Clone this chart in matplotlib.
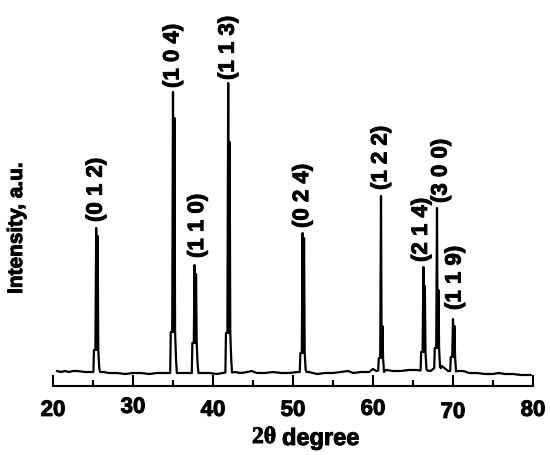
import matplotlib.pyplot as plt
import matplotlib.transforms as mtransforms
import matplotlib.patheffects as pe
import numpy as np

# Peak data
hkl = ["(0 1 2)", "(1 0 4)", "(1 1 0)", "(1 1 3)", "(0 2 4)",
       "(1 2 2)", "(2 1 4)", "(3 0 0)", "(1 1 9)"]
peak_pos = [25.4, 35.0, 37.7, 41.9, 51.2, 61.0, 66.3, 68.0, 70.0]
peak_top = [158, 294, 121, 303, 153, 190, 119, 178, 67]
peak_thick = [150, 268, 112, 244, 148, 60, 100, 96, 60]
peak_foot = [36, 54, 43, 53, 33, 28, 34, 38, 29]

base_x = [20.5, 21.0, 21.5, 22.0, 22.5, 23.0, 24.0, 24.8, 26.3, 27.0, 28.0,
          29.0, 30.0, 31.0, 32.0, 33.0, 34.3, 35.8, 36.5, 37.1, 38.4, 39.5,
          40.5, 41.2, 42.7, 43.5, 44.3, 44.8, 45.5, 46.5, 47.5, 48.5, 49.5,
          50.6, 52.0, 53.0, 54.0, 55.0, 56.0, 56.9, 57.5, 58.5, 59.5, 60.0,
          60.4, 61.7, 62.5, 63.5, 64.5, 65.5, 67.2, 68.6, 69.4, 71.3, 72.0,
          73.0, 74.0, 75.0, 75.7, 76.5, 77.5, 78.5, 79.7]
base_y = [15, 14, 15, 14, 15, 15, 14, 14, 14, 13, 13,
          12, 13, 13, 12, 13, 13, 13, 13, 13, 13, 13,
          12, 13, 14, 13, 14, 15, 13, 13, 14, 13, 13,
          14, 14, 12, 13, 13, 14, 15, 13, 14, 14, 17,
          15, 16, 15, 15, 16, 16, 15, 20, 15, 15, 13,
          13, 12, 12, 13, 12, 12, 11, 11]

# Label nudges (pixels) next to each peak top
label_dx = [0, 0, 3, 0, 0, 0, -2, 4, 2]
label_dy = [6, 4, 7, 3, 5, 6, 5, 5, 9]

# Tick label vertical nudges (pixels), the original is a bit uneven
tick_dy = [0, 3, 0, 0, 1, -2, 0]

# Heavier look for the bold text
heavy = [pe.withStroke(linewidth=0.7, foreground="black")]

# Build the curve: baseline points plus a Ka1/Ka2 doublet for every peak
pts = list(zip(base_x, base_y))
for x0, top, thick, foot in zip(peak_pos, peak_top, peak_thick, peak_foot):
    b = np.interp(x0, base_x, base_y)
    pts += [(x0 - 0.35, b), (x0 - 0.28, foot), (x0 - 0.1, foot),
            (x0, top), (x0 + 0.08, foot), (x0 + 0.18, thick),
            (x0 + 0.26, foot), (x0 + 0.38, foot * 0.5), (x0 + 0.48, b)]
pts.sort()
xs = [p[0] for p in pts]
ys = [p[1] for p in pts]

# Create a Figure
fig = plt.figure(figsize=(5.5, 4.55), dpi=100)
ax = fig.add_axes([53 / 550, (455 - 386) / 455, 480 / 550, 386 / 455])

# Draw the pattern
ax.plot(xs, ys, color="black", linewidth=1.6)

for lab, x0, top, dx, dy in zip(hkl, peak_pos, peak_top, label_dx, label_dy):
    ax.annotate(lab, (x0, top), xytext=(dx, dy), textcoords="offset pixels",
                rotation=90, ha="center", va="bottom", fontsize=16,
                fontweight="bold", family="Liberation Sans",
                path_effects=heavy)

# Axes look
ax.set_xlim(20, 80)
ax.set_ylim(0, 386)
for s in ["left", "right", "top"]:
    ax.spines[s].set_visible(False)
ax.spines["bottom"].set_linewidth(1.5)
ax.set_yticks([])
ax.set_xticks(np.arange(20, 81, 10))
ax.set_xticks(np.arange(25, 80, 10), minor=True)
ax.tick_params(axis="x", which="major", direction="in", length=8, width=1.5,
               pad=10, labelsize=16)
ax.tick_params(axis="x", which="minor", direction="in", length=4, width=1.5)
for t, dy in zip(ax.get_xticklabels(), tick_dy):
    t.set_fontweight("bold")
    t.set_family("Liberation Sans")
    t.set_path_effects(heavy)
    shift = mtransforms.ScaledTranslation(0, dy / 100, fig.dpi_scale_trans)
    t.set_transform(t.get_transform() + shift)

# x label: serif 2θ followed by sans "degree"
fig.text(252 / 550, 1 - 427 / 455, "2θ", fontsize=17, fontweight="bold",
         family="Liberation Serif", ha="left", va="top", path_effects=heavy)
fig.text(282 / 550, 1 - 427 / 455, "degree", fontsize=17, fontweight="bold",
         family="Liberation Sans", ha="left", va="top", path_effects=heavy)

ax.set_ylabel("Intensity, a.u.", fontsize=15, fontweight="bold",
              family="Liberation Sans", path_effects=heavy)
ax.yaxis.set_label_coords(-27 / 480, (386 - 228) / 386)

fig.savefig("out.png", dpi=100)
